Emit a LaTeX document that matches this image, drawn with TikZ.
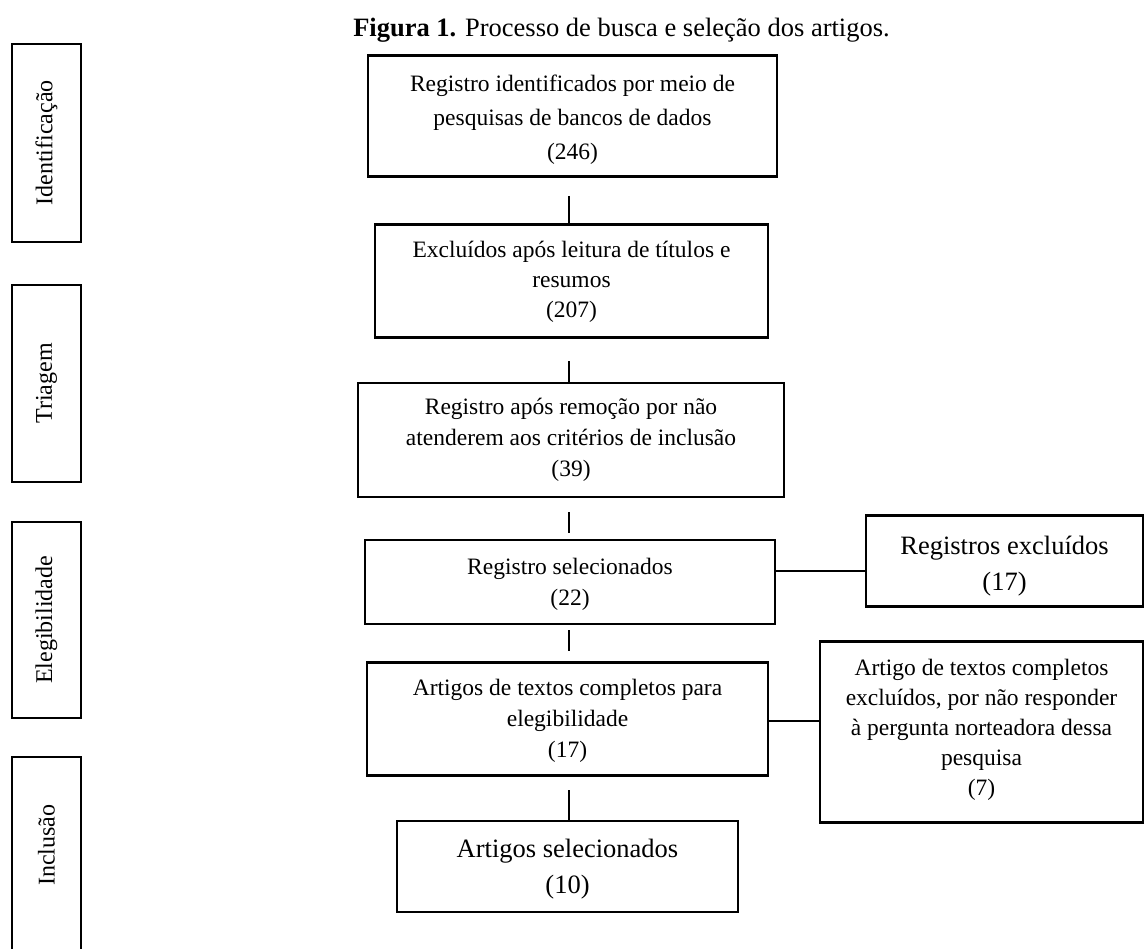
\documentclass[tikz,border=0pt]{standalone}
\usepackage{fontspec}
\setmainfont{Liberation Serif}
\begin{document}
\begin{tikzpicture}[x=1pt,y=-1pt,
  box/.style={draw=black, line width=2.6pt, inner sep=0pt},
  boxtext/.style={align=center, inner sep=0pt, font=\fontsize{23.5}{31}\selectfont},
  side/.style={draw=black, line width=2.6pt, minimum width=69pt, inner sep=0pt},
  sidelabel/.style={rotate=90, font=\fontsize{24}{28}\selectfont, inner sep=0pt},
  link/.style={draw=black, line width=2.6pt}]
\useasboundingbox (0,0) rectangle (1145,949);
% title
\node[font=\fontsize{26.5}{30}\selectfont, inner sep=0pt] (title) at (621.5,30) {\textbf{Figura 1.} Processo de busca e seleção dos artigos.};
% side boxes
\node[side, minimum height=198pt] (sid) at (46.5,143) {};
\node[sidelabel] (sidt) at (sid.center) {Identificação};
\node[side, minimum height=197pt] (str) at (46.5,383.5) {};
\node[sidelabel] (strt) at (str.center) {Triagem};
\node[side, minimum height=196pt] (sel) at (46.5,620) {};
\node[sidelabel] (selt) at (sel.center) {Elegibilidade};
\node[side, minimum height=206pt] (sin) at (46.5,860) {};
\node[sidelabel] (sint) at (46.5,845) {Inclusão};
% main boxes
\node[box, minimum width=409pt, minimum height=121pt] (b1) at (572.5,116) {};
\node[boxtext, font=\fontsize{23.5}{34}\selectfont] (t1) at ([yshift=-4pt]b1.center)
  {Registro identificados por meio de\\pesquisas de bancos de dados\\(246)};
\node[box, minimum width=393pt, minimum height=113pt] (b2) at (571.5,281) {};
\node[boxtext, font=\fontsize{23.5}{30}\selectfont] (t2) at ([yshift=-1pt]b2.center)
  {Excluídos após leitura de títulos e\\resumos\\(207)};
\node[box, minimum width=426pt, minimum height=114pt] (b3) at (571,440) {};
\node[boxtext] (t3) at (b3.center)
  {Registro após remoção por não\\atenderem aos critérios de inclusão\\(39)};
\node[box, minimum width=410pt, minimum height=84pt] (b4) at (570,582) {};
\node[boxtext] (t4) at ([yshift=-2pt]b4.center)
  {Registro selecionados\\(22)};
\node[box, minimum width=401pt, minimum height=113pt] (b5) at (567.5,719) {};
\node[boxtext] (t5) at ([yshift=-2pt]b5.center)
  {Artigos de textos completos para\\elegibilidade\\(17)};
\node[box, minimum width=341pt, minimum height=91pt] (b6) at (567.5,866.5) {};
\node[boxtext, font=\fontsize{26.5}{36}\selectfont] (t6) at ([yshift=-3pt]b6.center)
  {Artigos selecionados\\(10)};
\node[box, minimum width=277pt, minimum height=91pt] (r1) at (1004.5,561) {};
\node[boxtext, font=\fontsize{26.5}{36}\selectfont] (tr1) at ([yshift=-5pt]r1.center)
  {Registros excluídos\\(17)};
\node[box, minimum width=323pt, minimum height=181pt] (r2) at (981.5,732) {};
\node[boxtext, font=\fontsize{23.5}{30}\selectfont] (tr2) at ([yshift=2pt]r2.center)
  {Artigo de textos completos\\excluídos, por não responder\\à pergunta norteadora dessa\\pesquisa\\(7)};
% free-standing connector ends
\coordinate (c1a) at (569,196);
\coordinate (c2a) at (569,361);
\coordinate (c3a) at (569,512);
\coordinate (c3b) at (569,533);
\coordinate (c4a) at (569,630);
\coordinate (c4b) at (569,651);
\coordinate (c5a) at (569,790);
\draw[link] (c1a) -- (c1a |- b2.north);
\draw[link] (c2a) -- (c2a |- b3.north);
\draw[link] (c3a) -- (c3b);
\draw[link] (c4a) -- (c4b);
\draw[link] (c5a) -- (c5a |- b6.north);
\draw[link] (b4.east |- 0,571) -- (r1.west |- 0,571);
\draw[link] (b5.east |- 0,721) -- (r2.west |- 0,721);
\end{tikzpicture}
\end{document}
